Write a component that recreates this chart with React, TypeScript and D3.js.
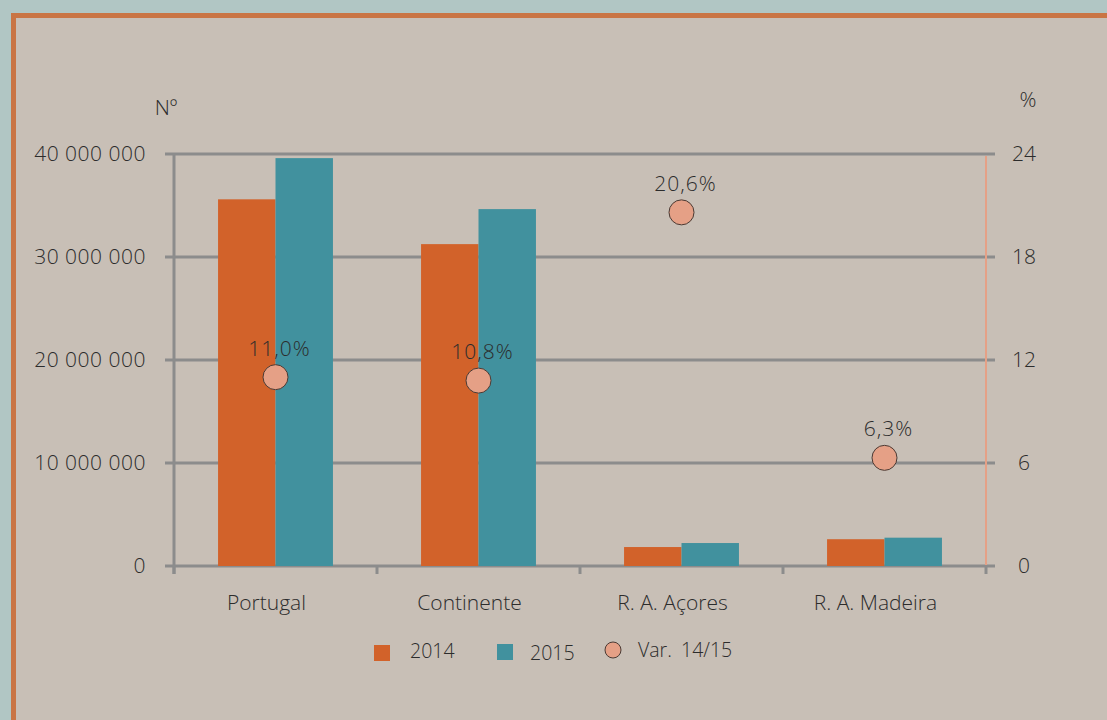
import React from "react";
import * as d3 from "d3";

const categories = ["Portugal", "Continente", "R. A. Açores", "R. A. Madeira"];
const values2014 = [35600000, 31250000, 1840000, 2600000];
const values2015 = [39600000, 34650000, 2230000, 2750000];
const variation = [11.0, 10.8, 20.6, 6.3];
const variationLabels = ["11,0%", "10,8%", "20,6%", "6,3%"];
const leftTicks = [0, 10000000, 20000000, 30000000, 40000000];
const leftTickLabels = ["0", "10 000 000", "20 000 000", "30 000 000", "40 000 000"];
const rightTicks = [0, 6, 12, 18, 24];
const seriesNames = ["2014", "2015"];

const W = 1107;
const H = 720;
const left = 174;
const right = 986;
const top = 154;
const bottom = 566;

const COL_2014 = "#d2622a";
const COL_2015 = "#41919e";
const COL_VAR = "#e5a086";
const BG = "#c8bfb6";
const OUTER = "#b1c6c4";
const BORDER = "#c97545";
const GRID = "#8c8c8c";
const TEXT = "#2c2c2c";
const FONT = "'Open Sans', 'DejaVu Sans', sans-serif";
const FS = 21;
const FW = 300;

export default function App() {
  const x0 = d3.scaleBand<string>().domain(categories).range([left, right]).padding(0);
  const bw = x0.bandwidth();
  const x1 = d3.scaleBand<string>().domain(seriesNames).range([bw * 0.217, bw * 0.783]).padding(0);
  const y = d3.scaleLinear().domain([0, 40000000]).range([bottom, top]);
  const y2 = d3.scaleLinear().domain([0, 24]).range([bottom, top]);
  const series = [values2014, values2015];
  const colors = [COL_2014, COL_2015];
  const boundaries = [...categories.map((c) => x0(c) as number), right];
  const txt = { fontSize: FS, fill: TEXT, fontFamily: FONT, fontWeight: FW } as const;
  const ltxt = { ...txt, fontSize: 19.5 };

  return (
    <svg width={W} height={H} style={{ position: "absolute", left: 0, top: 0 }}>
      <rect x={0} y={0} width={W} height={H} fill={OUTER} />
      <rect x={11} y={13} width={W - 11} height={H - 13} fill={BORDER} />
      <rect x={16} y={18} width={W - 16} height={H - 18} fill={BG} />

      {leftTicks.map((t) => (
        <line key={"g" + t} x1={165} x2={995} y1={y(t)} y2={y(t)} stroke={GRID} strokeWidth={3} />
      ))}
      <line x1={left} x2={left} y1={top} y2={bottom + 8} stroke={GRID} strokeWidth={3} />
      {boundaries.map((b, i) => (
        <line key={"t" + i} x1={b} x2={b} y1={bottom} y2={bottom + 8} stroke={GRID} strokeWidth={3} />
      ))}

      {categories.map((c, ci) =>
        series.map((s, si) => {
          const bx = (x0(c) as number) + (x1(seriesNames[si]) as number);
          return (
            <rect
              key={c + si}
              x={bx}
              y={y(s[ci])}
              width={x1.bandwidth()}
              height={y(0) - y(s[ci])}
              fill={colors[si]}
            />
          );
        })
      )}

      <line x1={right} x2={right} y1={top + 2} y2={bottom - 1} stroke={COL_VAR} strokeWidth={2} />

      {leftTicks.map((t, i) => (
        <text key={"lt" + t} x={146} y={y(t)} dy="0.35em" textAnchor="end" {...txt} letterSpacing={0.5}>
          {leftTickLabels[i]}
        </text>
      ))}
      {rightTicks.map((t) => (
        <text key={"rt" + t} x={1024} y={y2(t)} dy="0.35em" textAnchor="middle" {...txt}>
          {String(t)}
        </text>
      ))}
      <text x={166} y={108} dy="0.35em" textAnchor="middle" {...txt}>
        Nº
      </text>
      <text x={1028} y={100} dy="0.35em" textAnchor="middle" {...txt}>
        %
      </text>

      {categories.map((c) => (
        <text key={"c" + c} x={(x0(c) as number) + bw / 2 - 9} y={603} dy="0.35em" textAnchor="middle" {...txt}>
          {c}
        </text>
      ))}

      {categories.map((c, i) => {
        const cx = (x0(c) as number) + bw / 2;
        const cy = y2(variation[i]);
        return (
          <g key={"v" + c}>
            <circle cx={cx} cy={cy} r={12.5} fill={COL_VAR} stroke="#4a3a34" strokeWidth={1} />
            <text x={cx + 4} y={cy - 29} dy="0.35em" textAnchor="middle" {...txt} letterSpacing={1}>
              {variationLabels[i]}
            </text>
          </g>
        );
      })}

      <rect x={374} y={645} width={16} height={16} fill={COL_2014} />
      <text x={410} y={651} dy="0.35em" {...ltxt}>2014</text>
      <rect x={497} y={644} width={16} height={16} fill={COL_2015} />
      <text x={530} y={653} dy="0.35em" {...ltxt}>2015</text>
      <circle cx={613} cy={650} r={8} fill={COL_VAR} stroke="#4a3a34" strokeWidth={1} />
      <text x={638} y={650} dy="0.35em" {...ltxt}>Var.</text>
      <text x={681} y={650} dy="0.35em" {...ltxt}>14/15</text>
    </svg>
  );
}
